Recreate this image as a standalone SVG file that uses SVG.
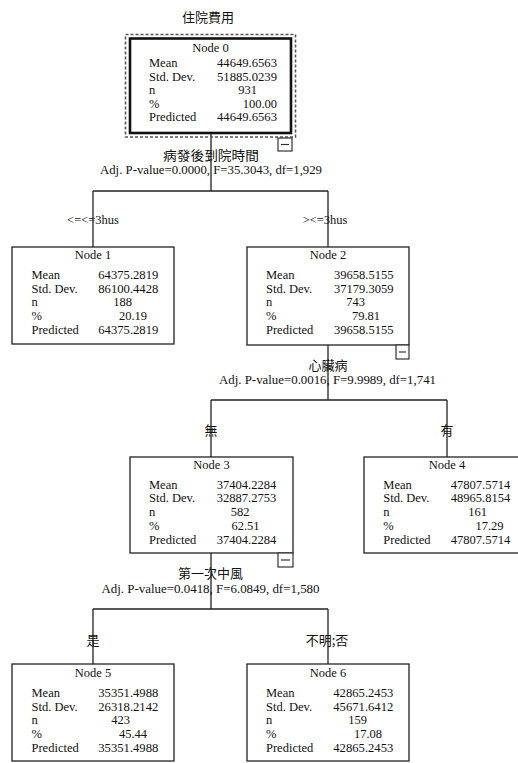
<svg xmlns="http://www.w3.org/2000/svg" width="518" height="763" viewBox="0 0 518 763">
<style>
.bg{fill:#fff}
.box{fill:#fff;stroke:#222;stroke-width:1.3}
.root{fill:#fff;stroke:#111;stroke-width:2.6}
.dash{fill:none;stroke:#555;stroke-width:1.6;stroke-dasharray:3 2}
.mini{fill:#fff;stroke:#333;stroke-width:1.2}
.conn line{stroke:#222;stroke-width:1.3}
text{font-family:"Liberation Serif","Times New Roman",serif;font-size:12.5px;fill:#111}
.c{text-anchor:middle}
.e{text-anchor:end}
.cjk{font-family:"Noto Sans CJK TC","Noto Sans CJK SC",sans-serif;font-size:13px;text-anchor:middle}
</style>
<rect class="bg" x="0" y="0" width="518" height="763"/>

<g id="connectors" class="conn">
<line x1="211" y1="133" x2="211" y2="191"/>
<line x1="93" y1="191" x2="328" y2="191"/>
<line x1="93" y1="191" x2="93" y2="247"/>
<line x1="328" y1="191" x2="328" y2="247"/>
<line x1="328" y1="345" x2="328" y2="400"/>
<line x1="211" y1="400" x2="447" y2="400"/>
<line x1="211" y1="400" x2="211" y2="457"/>
<line x1="447" y1="400" x2="447" y2="457"/>
<line x1="211" y1="553" x2="211" y2="609"/>
<line x1="93" y1="609" x2="328" y2="609"/>
<line x1="93" y1="609" x2="93" y2="664"/>
<line x1="328" y1="609" x2="328" y2="664"/>
</g>

<g id="labels">
<text class="cjk" x="208" y="22">住院費用</text>
<text class="cjk" x="211" y="159.5" textLength="96" lengthAdjust="spacingAndGlyphs">病發後到院時間</text>
<text x="100" y="174" textLength="222" lengthAdjust="spacingAndGlyphs">Adj. P-value=0.0000, F=35.3043, df=1,929</text>
<text class="c" x="93" y="224">&lt;=&lt;=3hus</text>
<text class="c" x="325" y="224">&gt;&lt;=3hus</text>
<text class="cjk" x="328" y="369.5">心臟病</text>
<text x="219" y="384" textLength="217" lengthAdjust="spacingAndGlyphs">Adj. P-value=0.0016, F=9.9989, df=1,741</text>
<text class="cjk" x="211" y="435">無</text>
<text class="cjk" x="447" y="435">有</text>
<text class="cjk" x="210.5" y="578">第一次中風</text>
<text x="101.5" y="592.5" textLength="218" lengthAdjust="spacingAndGlyphs">Adj. P-value=0.0418, F=6.0849, df=1,580</text>
<text class="cjk" x="93" y="645">是</text>
<text class="cjk" x="327" y="645">不明;否</text>
</g>

<g id="node0">
<rect class="dash" x="125.5" y="34.5" width="170" height="102.5"/>
<rect class="root" x="130" y="38.5" width="161" height="94.5"/>
<text class="c" x="210.5" y="51.5">Node 0</text>
<text x="149" y="67">Mean</text><text x="217" y="67" textLength="60" lengthAdjust="spacingAndGlyphs">44649.6563</text>
<text x="149" y="80.5">Std. Dev.</text><text x="217" y="80.5" textLength="60" lengthAdjust="spacingAndGlyphs">51885.0239</text>
<text x="149" y="94">n</text><text class="e" x="257" y="94">931</text>
<text x="149" y="107.5">%</text><text class="e" x="277" y="107.5">100.00</text>
<text x="149" y="121">Predicted</text><text x="217" y="121" textLength="60" lengthAdjust="spacingAndGlyphs">44649.6563</text>
<rect class="mini" x="278" y="138" width="14" height="13"/>
<line x1="281" y1="144.5" x2="289" y2="144.5" stroke="#333" stroke-width="1.2"/>
</g>

<g id="node1">
<rect class="box" x="12" y="247" width="162" height="97"/>
<text class="c" x="93" y="259">Node 1</text>
<text x="31.5" y="279">Mean</text><text x="98.3" y="279" textLength="60" lengthAdjust="spacingAndGlyphs">64375.2819</text>
<text x="31.5" y="292.5">Std. Dev.</text><text x="98.3" y="292.5" textLength="60" lengthAdjust="spacingAndGlyphs">86100.4428</text>
<text x="31.5" y="306">n</text><text class="e" x="132" y="306">188</text>
<text x="31.5" y="320">%</text><text class="e" x="147" y="320">20.19</text>
<text x="31.5" y="334">Predicted</text><text x="98.3" y="334" textLength="60" lengthAdjust="spacingAndGlyphs">64375.2819</text>
</g>

<g id="node2">
<rect class="box" x="247" y="247" width="162" height="98"/>
<text class="c" x="328" y="259">Node 2</text>
<text x="266" y="279">Mean</text><text x="334" y="279" textLength="59.5" lengthAdjust="spacingAndGlyphs">39658.5155</text>
<text x="266" y="292.5">Std. Dev.</text><text x="334" y="292.5" textLength="59.5" lengthAdjust="spacingAndGlyphs">37179.3059</text>
<text x="266" y="306">n</text><text class="e" x="365" y="306">743</text>
<text x="266" y="320">%</text><text class="e" x="380" y="320">79.81</text>
<text x="266" y="334">Predicted</text><text x="334" y="334" textLength="59.5" lengthAdjust="spacingAndGlyphs">39658.5155</text>
<rect class="mini" x="396" y="345" width="13" height="14"/>
<line x1="399" y1="352" x2="406" y2="352" stroke="#333" stroke-width="1.2"/>
</g>

<g id="node3">
<rect class="box" x="130" y="457" width="163" height="96"/>
<text class="c" x="211.5" y="468.5">Node 3</text>
<text x="149" y="488.5">Mean</text><text x="216.7" y="488.5" textLength="59.5" lengthAdjust="spacingAndGlyphs">37404.2284</text>
<text x="149" y="502">Std. Dev.</text><text x="216.7" y="502" textLength="59.5" lengthAdjust="spacingAndGlyphs">32887.2753</text>
<text x="149" y="515.5">n</text><text class="e" x="249.5" y="515.5">582</text>
<text x="149" y="529.5">%</text><text class="e" x="259.5" y="529.5">62.51</text>
<text x="149" y="543.5">Predicted</text><text x="216.7" y="543.5" textLength="59.5" lengthAdjust="spacingAndGlyphs">37404.2284</text>
<rect class="mini" x="278" y="553" width="15" height="14"/>
<line x1="281" y1="560" x2="290" y2="560" stroke="#333" stroke-width="1.2"/>
</g>

<g id="node4">
<rect class="box" x="364" y="457" width="166" height="96"/>
<text class="c" x="447" y="468.5">Node 4</text>
<text x="383.3" y="488.5">Mean</text><text x="450.7" y="488.5" textLength="59.5" lengthAdjust="spacingAndGlyphs">47807.5714</text>
<text x="383.3" y="502">Std. Dev.</text><text x="450.7" y="502" textLength="59.5" lengthAdjust="spacingAndGlyphs">48965.8154</text>
<text x="383.3" y="515.5">n</text><text class="e" x="487" y="515.5">161</text>
<text x="383.3" y="529.5">%</text><text class="e" x="503.5" y="529.5">17.29</text>
<text x="383.3" y="543.5">Predicted</text><text x="450.7" y="543.5" textLength="59.5" lengthAdjust="spacingAndGlyphs">47807.5714</text>
</g>

<g id="node5">
<rect class="box" x="12" y="664" width="162" height="97"/>
<text class="c" x="93" y="677">Node 5</text>
<text x="31.5" y="697">Mean</text><text x="98.3" y="697" textLength="60" lengthAdjust="spacingAndGlyphs">35351.4988</text>
<text x="31.5" y="710.5">Std. Dev.</text><text x="98.3" y="710.5" textLength="60" lengthAdjust="spacingAndGlyphs">26318.2142</text>
<text x="31.5" y="724">n</text><text class="e" x="130" y="724">423</text>
<text x="31.5" y="738">%</text><text class="e" x="147" y="738">45.44</text>
<text x="31.5" y="752">Predicted</text><text x="98.3" y="752" textLength="60" lengthAdjust="spacingAndGlyphs">35351.4988</text>
</g>

<g id="node6">
<rect class="box" x="247" y="664" width="162" height="97"/>
<text class="c" x="328" y="677">Node 6</text>
<text x="266" y="697">Mean</text><text x="333.3" y="697" textLength="60" lengthAdjust="spacingAndGlyphs">42865.2453</text>
<text x="266" y="710.5">Std. Dev.</text><text x="333.3" y="710.5" textLength="60" lengthAdjust="spacingAndGlyphs">45671.6412</text>
<text x="266" y="724">n</text><text class="e" x="367" y="724">159</text>
<text x="266" y="738">%</text><text class="e" x="382" y="738">17.08</text>
<text x="266" y="752">Predicted</text><text x="333.3" y="752" textLength="60" lengthAdjust="spacingAndGlyphs">42865.2453</text>
</g>
</svg>
